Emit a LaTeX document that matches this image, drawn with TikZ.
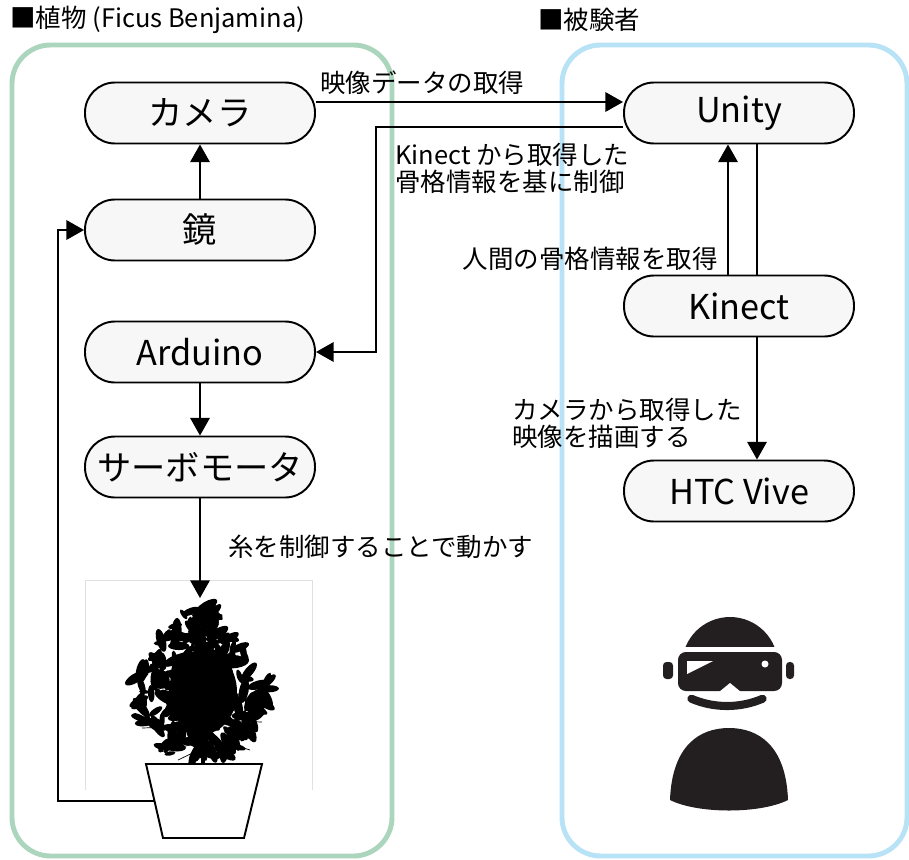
\documentclass[tikz,border=0pt]{standalone}
\usepackage{fontspec}
\setmainfont{Noto Sans CJK JP}
\usepackage{tikz}
\usetikzlibrary{arrows.meta,positioning,calc}
\definecolor{plantgreen}{RGB}{172, 213, 190}
\definecolor{subjectblue}{RGB}{184, 226, 246}
\definecolor{boxgray}{RGB}{247, 247, 247}
\definecolor{iconblack}{RGB}{35, 31, 32}

\begin{document}
\begin{tikzpicture}[x=0.02cm, y=-0.02cm, >={Triangle[length=10pt, width=11pt]},
    stage/.style={draw=black, line width=1.1pt, fill=boxgray, rounded corners=17pt,
        minimum width=4.6cm, minimum height=1.22cm, inner sep=0pt,
        font=\fontsize{19.5}{21}\selectfont},
    flow/.style={->, line width=1.1pt},
    note/.style={font=\fontsize{14.5}{15.5}\selectfont, align=left, inner sep=0pt},
    frame/.style={line width=2.8pt, rounded corners=22pt}]
    \useasboundingbox (0,0) rectangle (909,859);

    % Group frames
    \draw[frame, plantgreen] (12,45) rectangle (392,856);
    \draw[frame, subjectblue] (562,45) rectangle (907,856);
    \node[note, anchor=west] (planttitle) at (10,20) {■植物 (Ficus Benjamina)};
    \node[note, anchor=west] (subjecttitle) at (538,20) {■被験者};

    % Plant side
    \node[stage] (camera) at (200,113) {カメラ};
    \node[stage] (mirror) at (200,230) {鏡};
    \node[stage] (arduino) at (200,352) {Arduino};
    \node[stage] (servo) at (200,467) {サーボモータ};

    % Subject side
    \node[stage] (unity) at (739,113) {Unity};
    \node[stage] (kinect) at (739,306) {Kinect};
    \node[stage] (vive) at (739,491) {HTC Vive};

    % Plant picture frame
    \draw[black!12, line width=0.5pt] (85,790) -- (85,580) -- (312,580) -- (312,790);
    \coordinate (planttop) at (200,598);
    \coordinate (potside) at (154,801);

    % Foliage: crown of loose leaves around a dark core
    \pgfmathsetseed{7}
    \fill[black] (203,692) ellipse [x radius=34, y radius=42];
    \foreach \i in {1,...,300}{
        \pgfmathsetmacro\t{rnd*360}
        \pgfmathsetmacro\r{rnd^0.6}
        \pgfmathsetmacro\lx{201+70*\r*cos(\t)*(1-0.62*max(0,-sin(\t)))}
        \pgfmathsetmacro\ly{682+80*\r*sin(\t)}
        \pgfmathsetmacro\a{rnd*180}
        \pgfmathsetmacro\lw{5+8*rnd}
        \fill[black, rotate around={\a:(\lx,\ly)}] (\lx,\ly) ellipse [x radius=\lw, y radius=0.38*\lw];
    }
    \draw[black, line width=0.4pt] (203,742) -- (160,752) (203,735) -- (250,750) (203,726) -- (142,728)
        (203,748) -- (178,760) (203,720) -- (262,722);
    \draw[black, line width=2.6pt] (203,766) -- (203,700);

    % Pot
    \draw[line width=1.1pt, fill=white] (146,764) -- (262,764) -- (244,838) -- (163,838) -- cycle;

    % Connectors on the plant side
    \draw[flow] (mirror.north) -- (camera.south);
    \draw[flow] (arduino.south) -- (servo.north);
    \draw[flow] (servo.south) -- (planttop);
    \draw[flow] (potside) -| ($(mirror.west)+(-26,0)$) -- (mirror.west);

    % Connectors between both sides
    \draw[flow] ($(camera.east)+(0,-11)$) -- ($(unity.west)+(0,-11)$);
    \draw[flow] ($(unity.west)+(0,14)$) -| ($(arduino.east)+(60,0)$) -- (arduino.east);
    \node[note, anchor=west] (videolabel) at (320,83) {映像データの取得};
    \node[note, anchor=west] (ctrllabel) at (395,168) {Kinect から取得した\\骨格情報を基に制御};

    % Connectors on the subject side
    \draw[flow] ($(kinect.north)+(-11,0)$) -- ($(unity.south)+(-11,0)$);
    \draw[line width=1.1pt] ($(unity.south)+(18,0)$) -- ($(kinect.north)+(18,0)$);
    \draw[flow] ($(kinect.south)+(18,0)$) -- ($(vive.north)+(18,0)$);
    \node[note, anchor=east] (skellabel) at (718,259) {人間の骨格情報を取得};
    \node[note, anchor=west] (drawlabel) at (512,423) {カメラから取得した\\映像を描画する};
    \node[note, anchor=west] (threadlabel) at (228,547) {糸を制御することで動かす};

    % Subject wearing the headset
    \begin{scope}
        \clip (600,600) rectangle (860,646);
        \fill[iconblack] (730,665) circle [radius=48];
    \end{scope}
    \fill[iconblack, rounded corners=4.5pt] (678,652) rectangle (782,691);
    \fill[white] (719,692) -- (730,683) -- (741,692) -- cycle;
    \fill[white] (687,661) -- (713,661) -- (687,674) -- cycle;
    \fill[white] (765,664) circle [radius=3.5];
    \fill[iconblack, rounded corners=2pt] (663,662) rectangle (673,679);
    \fill[iconblack, rounded corners=2pt] (786,662) rectangle (794,679);
    \draw[iconblack, line width=4.6pt, line cap=round] (727,615) ++(67:91) arc (67:113:91);
    \fill[iconblack] (670,800) .. controls (672,745) and (700,728) .. (729,728)
        .. controls (758,728) and (786,745) .. (788,800)
        .. controls (760,814) and (698,814) .. (670,800) -- cycle;
\end{tikzpicture}
\end{document}
